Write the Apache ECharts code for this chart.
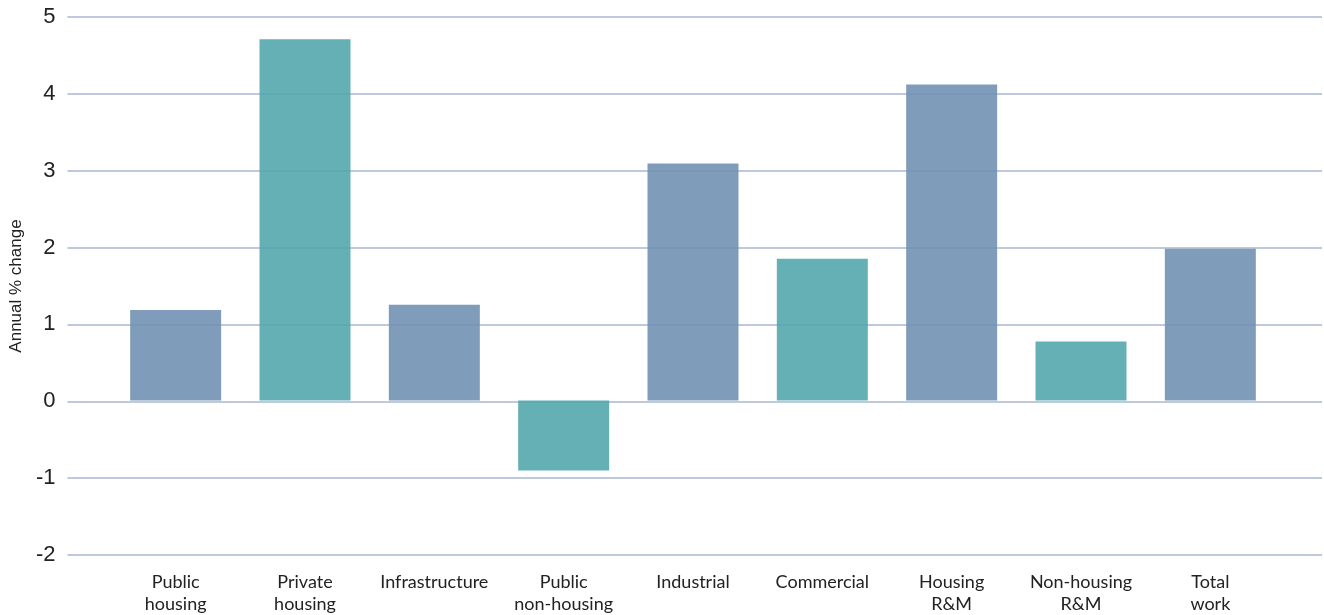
<!DOCTYPE html>
<html>
<head>
<meta charset="utf-8">
<script src="https://cdn.jsdelivr.net/npm/echarts@6/dist/echarts.min.js"></script>
<style>html,body{margin:0;padding:0;background:#fff}#c{width:1324px;height:615px}</style>
</head>
<body>
<div id="c"></div>
<script>
const categories = ['Public\nhousing','Private\nhousing','Infrastructure','Public\nnon-housing','Industrial','Commercial','Housing\nR&M','Non-housing\nR&M','Total\nwork'];
const values = [1.18, 4.71, 1.25, -0.91, 3.09, 1.85, 4.12, 0.77, 1.98];
const barKinds = ['blue','teal','blue','teal','blue','teal','blue','teal','blue'];
const yTicks = [-2, -1, 0, 1, 2, 3, 4, 5];
const palette = {blue: '#7192b3', teal: '#53a7ad'};

const chart = echarts.init(document.getElementById('c'), null, {renderer: 'canvas'});
const yMin = yTicks[0], yMax = yTicks[yTicks.length - 1];
chart.setOption({
  animation: false,
  grid: [
    {left: 60, right: 2, top: 17, bottom: 60},
    {left: 111, right: 49, top: 17, bottom: 60}
  ],
  xAxis: [
    {gridIndex: 0, type: 'value', show: false, min: 0, max: 1},
    {gridIndex: 1, type: 'category', data: categories,
     axisLine: {show: false}, axisTick: {show: false},
     axisLabel: {color: '#222', fontSize: 18, fontFamily: 'Lato, "Open Sans", sans-serif', lineHeight: 22, margin: 17, interval: 0}}
  ],
  yAxis: [
    {gridIndex: 0, type: 'value', min: yMin, max: yMax, interval: 1,
     name: 'Annual % change', nameLocation: 'middle', nameGap: 42,
     nameTextStyle: {color: '#222', fontSize: 17, fontFamily: 'Liberation Sans, Arial, sans-serif'},
     axisLine: {show: false}, axisTick: {show: false},
     axisLabel: {color: '#222', fontSize: 22, fontFamily: 'Liberation Sans, Arial, sans-serif', margin: 12},
     splitLine: {lineStyle: {color: '#a9b7d2', width: 1.5}}},
    {gridIndex: 1, type: 'value', min: yMin, max: yMax, interval: 1, show: false, splitLine: {show: false}}
  ],
  series: [{
    type: 'bar', xAxisIndex: 1, yAxisIndex: 1, barWidth: 91,
    data: values.map((v, i) => ({value: v, itemStyle: {color: palette[barKinds[i]], opacity: 0.9}}))
  }]
});
</script>
</body>
</html>
